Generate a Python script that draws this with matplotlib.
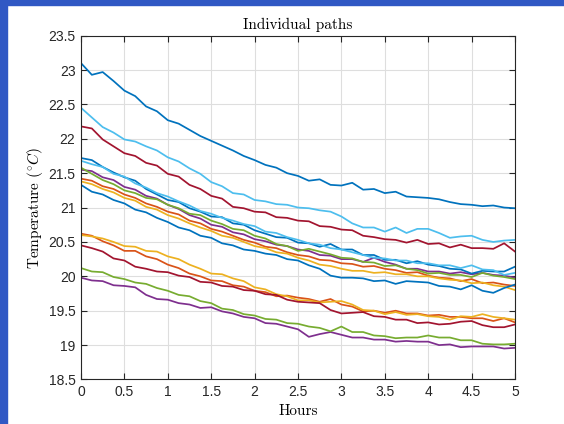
import numpy as np
import matplotlib
matplotlib.use('Agg')
import matplotlib.pyplot as plt
from matplotlib.patches import Rectangle

plt.rcParams['mathtext.fontset'] = 'cm'

# temperature paths, one reading every 7.5 minutes over 5 hours
path_blue1 = [23.10, 22.93, 22.97, 22.84, 22.70, 22.62, 22.47, 22.40, 22.27, 22.22, 22.13, 22.04, 21.97, 21.90,
              21.83, 21.75, 21.69, 21.62, 21.58, 21.50, 21.46, 21.39, 21.41, 21.33, 21.32, 21.36, 21.26, 21.27,
              21.21, 21.23, 21.16, 21.15, 21.14, 21.12, 21.08, 21.05, 21.04, 21.02, 21.03, 21.00, 20.99]
path_orange1 = [21.42, 21.39, 21.31, 21.27, 21.19, 21.14, 21.06, 21.01, 20.94, 20.90, 20.81, 20.77, 20.69, 20.65,
                20.59, 20.53, 20.49, 20.43, 20.41, 20.35, 20.31, 20.29, 20.24, 20.23, 20.19, 20.18, 20.14, 20.15,
                20.11, 20.09, 20.05, 20.06, 20.01, 19.98, 19.97, 19.93, 19.96, 19.90, 19.91, 19.88, 19.86]
path_yellow1 = [21.38, 21.34, 21.27, 21.22, 21.14, 21.10, 21.01, 20.97, 20.89, 20.84, 20.77, 20.71, 20.66, 20.59,
                20.56, 20.50, 20.44, 20.41, 20.35, 20.33, 20.27, 20.23, 20.17, 20.15, 20.11, 20.08, 20.08, 20.05,
                20.06, 20.03, 20.03, 20.00, 20.00, 19.97, 19.95, 19.94, 19.90, 19.91, 19.87, 19.85, 19.80]
path_purple1 = [21.55, 21.53, 21.44, 21.40, 21.30, 21.26, 21.17, 21.13, 21.04, 20.98, 20.89, 20.84, 20.75, 20.72,
                20.64, 20.61, 20.54, 20.51, 20.46, 20.44, 20.39, 20.37, 20.31, 20.30, 20.25, 20.25, 20.21, 20.27,
                20.21, 20.17, 20.11, 20.11, 20.07, 20.07, 20.04, 20.06, 20.03, 20.05, 20.02, 20.01, 19.98]
path_green1 = [21.58, 21.49, 21.40, 21.34, 21.25, 21.21, 21.14, 21.12, 21.04, 20.99, 20.91, 20.89, 20.81, 20.76,
               20.69, 20.67, 20.59, 20.55, 20.47, 20.44, 20.37, 20.40, 20.36, 20.32, 20.27, 20.26, 20.21, 20.20,
               20.15, 20.16, 20.11, 20.09, 20.04, 20.05, 20.02, 20.02, 19.99, 20.05, 20.01, 19.99, 19.96]
path_ltblue1 = [22.45, 22.31, 22.17, 22.09, 21.99, 21.96, 21.89, 21.83, 21.73, 21.67, 21.57, 21.49, 21.37, 21.31,
                21.21, 21.19, 21.11, 21.09, 21.05, 21.04, 21.00, 20.99, 20.96, 20.94, 20.87, 20.77, 20.71, 20.71,
                20.65, 20.71, 20.63, 20.69, 20.69, 20.63, 20.56, 20.58, 20.59, 20.53, 20.50, 20.52, 20.53]
path_red1 = [22.18, 22.15, 21.99, 21.89, 21.79, 21.75, 21.65, 21.61, 21.49, 21.45, 21.33, 21.27, 21.17, 21.13,
             21.01, 20.99, 20.94, 20.93, 20.86, 20.85, 20.81, 20.80, 20.73, 20.72, 20.68, 20.67, 20.59, 20.57,
             20.54, 20.53, 20.49, 20.53, 20.47, 20.48, 20.42, 20.46, 20.41, 20.41, 20.40, 20.48, 20.36]
path_blue2 = [21.72, 21.69, 21.59, 21.51, 21.44, 21.39, 21.27, 21.19, 21.11, 21.08, 20.99, 20.94, 20.87, 20.86,
              20.77, 20.75, 20.67, 20.62, 20.57, 20.56, 20.49, 20.48, 20.43, 20.47, 20.39, 20.39, 20.31, 20.31,
              20.24, 20.24, 20.19, 20.22, 20.17, 20.15, 20.11, 20.10, 20.04, 20.08, 20.07, 20.07, 20.14]
path_orange2 = [20.62, 20.59, 20.51, 20.45, 20.37, 20.37, 20.29, 20.25, 20.17, 20.12, 20.04, 20.00, 19.94, 19.93,
                19.87, 19.85, 19.79, 19.77, 19.71, 19.72, 19.69, 19.67, 19.63, 19.67, 19.59, 19.56, 19.49, 19.50,
                19.47, 19.50, 19.46, 19.46, 19.43, 19.44, 19.41, 19.41, 19.39, 19.39, 19.35, 19.39, 19.33]
path_yellow2 = [20.60, 20.58, 20.55, 20.50, 20.44, 20.43, 20.37, 20.36, 20.29, 20.25, 20.17, 20.11, 20.04, 20.03,
                19.97, 19.93, 19.84, 19.81, 19.74, 19.71, 19.65, 19.65, 19.62, 19.63, 19.64, 19.59, 19.51, 19.50,
                19.45, 19.48, 19.44, 19.45, 19.42, 19.41, 19.37, 19.42, 19.41, 19.45, 19.41, 19.39, 19.37]
path_purple2 = [19.98, 19.94, 19.93, 19.87, 19.86, 19.84, 19.73, 19.67, 19.66, 19.61, 19.59, 19.54, 19.55, 19.49,
                19.46, 19.41, 19.39, 19.32, 19.31, 19.27, 19.23, 19.12, 19.16, 19.19, 19.15, 19.11, 19.11, 19.08,
                19.08, 19.05, 19.06, 19.05, 19.05, 19.00, 19.01, 18.97, 18.98, 18.98, 18.98, 18.95, 18.96]
path_green2 = [20.12, 20.07, 20.06, 19.99, 19.96, 19.91, 19.89, 19.83, 19.79, 19.73, 19.71, 19.64, 19.61, 19.53,
               19.51, 19.45, 19.43, 19.38, 19.37, 19.32, 19.31, 19.27, 19.25, 19.20, 19.27, 19.19, 19.19, 19.14,
               19.13, 19.10, 19.11, 19.11, 19.14, 19.11, 19.11, 19.07, 19.07, 19.02, 19.01, 19.01, 19.02]
path_ltblue2 = [21.68, 21.63, 21.59, 21.49, 21.45, 21.35, 21.29, 21.21, 21.16, 21.09, 21.03, 20.95, 20.91, 20.85,
                20.81, 20.76, 20.73, 20.65, 20.63, 20.57, 20.53, 20.48, 20.46, 20.41, 20.39, 20.35, 20.31, 20.27,
                20.26, 20.23, 20.23, 20.19, 20.19, 20.16, 20.16, 20.12, 20.16, 20.10, 20.09, 20.02, 20.05]
path_red2 = [20.45, 20.41, 20.36, 20.26, 20.23, 20.14, 20.11, 20.07, 20.06, 20.01, 19.99, 19.92, 19.91, 19.86,
             19.85, 19.80, 19.79, 19.74, 19.73, 19.66, 19.63, 19.62, 19.61, 19.51, 19.46, 19.47, 19.48, 19.42,
             19.41, 19.37, 19.37, 19.32, 19.33, 19.30, 19.31, 19.34, 19.35, 19.29, 19.26, 19.26, 19.30]
path_blue3 = [21.33, 21.23, 21.19, 21.11, 21.06, 20.97, 20.93, 20.85, 20.79, 20.71, 20.67, 20.59, 20.56, 20.48,
              20.45, 20.39, 20.37, 20.33, 20.31, 20.25, 20.23, 20.16, 20.11, 20.01, 19.98, 19.98, 19.97, 19.93,
              19.94, 19.89, 19.93, 19.92, 19.91, 19.86, 19.85, 19.81, 19.87, 19.79, 19.76, 19.83, 19.88]

paths = [path_blue1, path_orange1, path_yellow1, path_purple1, path_green1, path_ltblue1, path_red1,
         path_blue2, path_orange2, path_yellow2, path_purple2, path_green2, path_ltblue2, path_red2,
         path_blue3]

# matlab default color order
colors = ['#0072BD', '#D95319', '#EDB120', '#7E2F8E', '#77AC30', '#4DBEEE', '#A2142F']

yticks = [18.5, 19, 19.5, 20, 20.5, 21, 21.5, 22, 22.5, 23, 23.5]
xticks = [0, 0.5, 1, 1.5, 2, 2.5, 3, 3.5, 4, 4.5, 5]

fig = plt.figure(figsize=(5.64, 4.24), dpi=100)
ax = fig.add_axes([0.1436, 0.105, 0.7695, 0.811])

for i, p in enumerate(paths):
    hrs = np.linspace(0, 5, len(p))
    ax.plot(hrs, p, color=colors[i % 7], lw=1.25)

ax.set_xlim(0, 5)
ax.set_ylim(18.5, 23.5)
ax.set_xticks(xticks)
ax.set_yticks(yticks)
ax.set_xticklabels(['%g' % t for t in xticks])
ax.set_yticklabels(['%g' % t for t in yticks])
ax.grid(True, color='#dedede', lw=0.8)
ax.set_axisbelow(True)
ax.tick_params(direction='in', length=4, width=0.8, top=True, right=True, colors='#262626',
               labelsize=10, pad=4)
for lbl in ax.get_xticklabels() + ax.get_yticklabels():
    lbl.set_fontfamily('Liberation Sans')
for s in ax.spines.values():
    s.set_color('#262626')
    s.set_linewidth(0.8)

ax.set_title('Individual paths', fontfamily='cmr10', fontsize=11, pad=5)
ax.set_xlabel('Hours', fontfamily='cmr10', fontsize=11, labelpad=4)
ax.set_ylabel(r'Temperature ($^{\circ}C$)', fontfamily='cmr10', fontsize=11, labelpad=2)

# blue frame strips from the screenshot
fig.patches.append(Rectangle((0, 0), 7 / 564, 1, transform=fig.transFigure, color='#3058c4', zorder=0))
fig.patches.append(Rectangle((0, 1 - 4.5 / 424), 1, 4.5 / 424, transform=fig.transFigure, color='#3058c4', zorder=0))

fig.savefig('out.png', dpi=100)
